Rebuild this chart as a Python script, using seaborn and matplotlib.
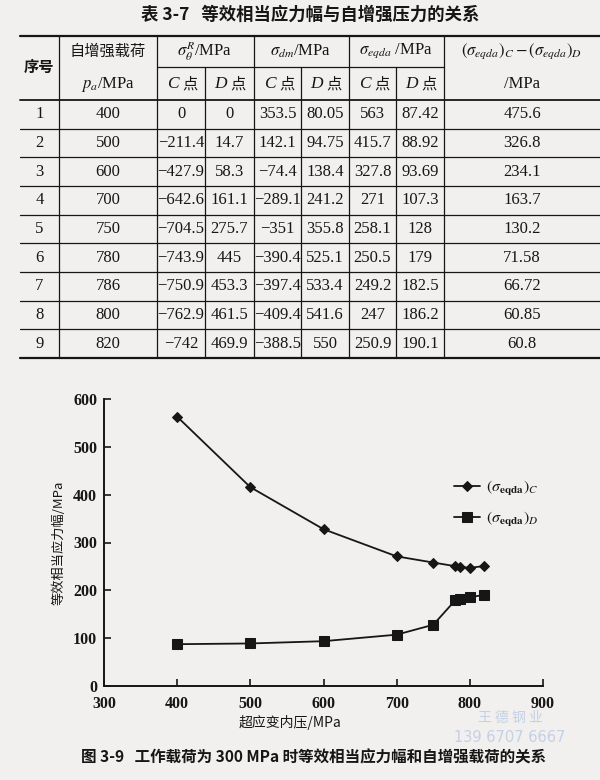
import matplotlib
matplotlib.use("Agg")
import matplotlib.pyplot as plt
from matplotlib.lines import Line2D
import pandas as pd
import seaborn as sns

# Table 3-7 values
row_no = [1, 2, 3, 4, 5, 6, 7, 8, 9]
p_a = [400, 500, 600, 700, 750, 780, 786, 800, 820]
sig_theta_C = [0, -211.4, -427.9, -642.6, -704.5, -743.9, -750.9, -762.9, -742]
sig_theta_D = [0, 14.7, 58.3, 161.1, 275.7, 445, 453.3, 461.5, 469.9]
sig_dm_C = [353.5, 142.1, -74.4, -289.1, -351, -390.4, -397.4, -409.4, -388.5]
sig_dm_D = [80.05, 94.75, 138.4, 241.2, 355.8, 525.1, 533.4, 541.6, 550]
sig_eq_C = [563, 415.7, 327.8, 271, 258.1, 250.5, 249.2, 247, 250.9]
sig_eq_D = [87.42, 88.92, 93.69, 107.3, 128, 179, 182.5, 186.2, 190.1]
sig_diff = [475.6, 326.8, 234.1, 163.7, 130.2, 71.58, 66.72, 60.85, 60.8]

sns.set_style("ticks")
plt.rcParams['font.family'] = ['Liberation Serif', 'Noto Sans CJK SC']
plt.rcParams['mathtext.fontset'] = 'stix'

INK = '#161616'
PAPER = '#f1f0ee'
W, H = 600, 780
CJK = ['Noto Sans CJK SC', 'DejaVu Sans']
SERIF = ['Liberation Serif', 'Noto Sans CJK SC']

fig = plt.figure(figsize=(6, 7.8), dpi=100, facecolor=PAPER)


def fx(x):
    return x / W


def fy(y):
    return 1 - y / H


def put(x, y, s, size=12, family=SERIF, ha='center', **kw):
    fig.text(fx(x), fy(y), s, ha=ha, va='center', fontsize=size,
             family=family, color=INK, **kw)


def hline(y, x0, x1, lw=0.9):
    fig.add_artist(Line2D([fx(x0), fx(x1)], [fy(y), fy(y)], color=INK, lw=lw))


def vline(x, y0, y1, lw=0.9):
    fig.add_artist(Line2D([fx(x), fx(x)], [fy(y0), fy(y1)], color=INK, lw=lw))


# ---- table ----
put(310, 15, "表 3-7   等效相当应力幅与自增强压力的关系", size=12.5,
    family=CJK, weight='bold')

top, mid, head, bottom = 36, 67, 100, 358
col_edges = [20, 59, 157, 205, 254, 301, 349, 396, 444, 600]
row_h = (bottom - head) / len(row_no)

hline(top, 20, 600, lw=1.6)
hline(head, 20, 600, lw=1.3)
hline(bottom, 20, 600, lw=1.6)
hline(mid, 157, 444)
for k in range(1, len(row_no)):
    hline(head + k * row_h, 20, 600)
for x in [59, 157, 254, 349, 444]:
    vline(x, top, bottom)
for x in [205, 301, 396]:
    vline(x, mid, bottom)

put(39, 67, "序号", size=11, family=CJK, weight='bold')
put(108, 51, "自增强载荷", size=11, family=CJK)
put(108, 84, "$p_a$/MPa", size=12)
put(205, 51, r"$\sigma_\theta^R$/MPa", size=12)
put(301, 51, r"$\sigma_{dm}$/MPa", size=12)
put(396, 51, r"$\sigma_{eqda}$ /MPa", size=12)
put(522, 51, r"$(\sigma_{eqda})_C-(\sigma_{eqda})_D$", size=12)
put(522, 84, "/MPa", size=12)
for i in range(3):
    for k, letter in enumerate("CD"):
        cx = col_edges[2 + 2 * i + k] + 24
        put(cx - 2, 84, letter, size=12.5, style='italic', ha='right')
        put(cx + 1, 84, "点", size=11, family=CJK, ha='left')


def fmt(v):
    return str(v).replace('-', '−')


columns = [row_no, p_a, sig_theta_C, sig_theta_D, sig_dm_C, sig_dm_D,
           sig_eq_C, sig_eq_D, sig_diff]
for j, col in enumerate(columns):
    cx = (col_edges[j] + col_edges[j + 1]) / 2
    if j == 8:
        cx = 522
    for i, v in enumerate(col):
        put(cx, head + (i + 0.5) * row_h, fmt(v), size=12)

# ---- chart ----
ax = fig.add_axes([fx(104), fy(686), (543 - 104) / W, (686 - 399) / H])
ax.set_facecolor(PAPER)

df = pd.DataFrame({'p_a': p_a, 'C': sig_eq_C, 'D': sig_eq_D})
sns.lineplot(data=df, x='p_a', y='C', marker='D', markersize=5.5, color=INK,
             lw=1.3, markeredgecolor=INK,
             label=r'$(\sigma_{\mathbf{eqda}})_C$', ax=ax)
sns.lineplot(data=df, x='p_a', y='D', marker='s', markersize=6.5, color=INK,
             lw=1.3, markeredgecolor=INK,
             label=r'$(\sigma_{\mathbf{eqda}})_D$', ax=ax)

ax.set_xlim(300, 900)
ax.set_ylim(0, 600)
ax.set_xticks(range(300, 901, 100))
ax.set_yticks(range(0, 601, 100))
sns.despine(ax=ax)
for s in ['left', 'bottom']:
    ax.spines[s].set_linewidth(1.4)
    ax.spines[s].set_color(INK)
ax.tick_params(direction='in', length=5, width=1.2, colors=INK, labelsize=11.5)
ax.tick_params(axis='x', pad=7)
ax.tick_params(axis='y', pad=5)
for t in ax.get_xticklabels() + ax.get_yticklabels():
    t.set_fontweight('bold')
    t.set_family(SERIF)
ax.set_xlabel("")
ax.set_ylabel("等效相当应力幅/MPa", family=CJK, fontsize=9.5, color=INK, labelpad=5)

ax.legend(loc='center left', bbox_to_anchor=(0.765, 0.635), frameon=False,
          handlelength=1.6, handletextpad=0.4, labelspacing=0.75,
          fontsize=11.5, labelcolor=INK)

put(290, 722, "超应变内压/MPa", size=10, family=CJK)
put(314, 757, "图 3-9   工作载荷为 300 MPa 时等效相当应力幅和自增强载荷的关系",
    size=11.2, family=CJK, weight='bold')

# scan watermark
fig.text(fx(510), fy(718), "王 德 钢 业", ha='center', va='center', fontsize=10,
         family=CJK, color='#c3d0e6')
fig.text(fx(510), fy(737), "139 6707 6667", ha='center', va='center', fontsize=10.5,
         family=['DejaVu Sans'], color='#c3d0e6')

fig.savefig("out.png", dpi=100, facecolor=PAPER)
